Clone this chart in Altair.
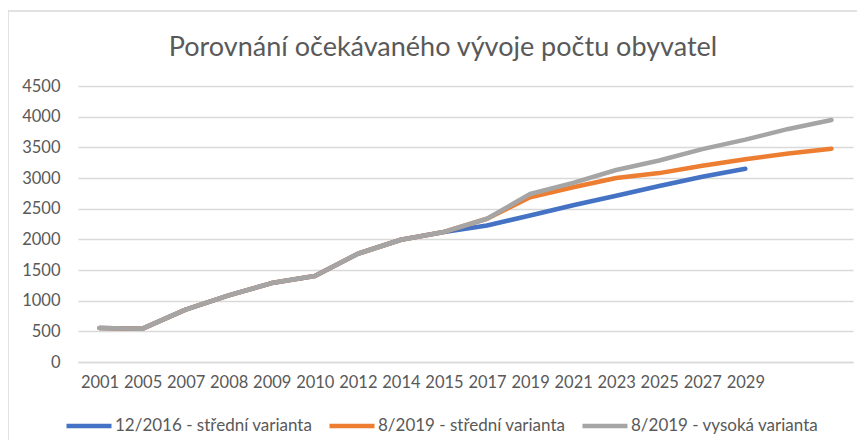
import json
import altair as alt
import pandas as pd

# ---- data ----
years = ["2001", "2005", "2007", "2008", "2009", "2010", "2012", "2014",
         "2015", "2017", "2019", "2021", "2023", "2025", "2027", "2029"]
n_categories = 18  # the last two categories carry no label in the reference

series_names = ["12/2016 - střední varianta",
                "8/2019 - střední varianta",
                "8/2019 - vysoká varianta"]
series_colors = ["#4472C4", "#ED7D31", "#A5A5A5"]

history = [554, 544, 853, 1086, 1287, 1401, 1765, 1993, 2120]          # 2001 .. 2015
blue_proj = [2226, 2389, 2555, 2710, 2870, 3020, 3150]                   # 2017 .. 2029
orange_proj = [2336, 2687, 2850, 3000, 3080, 3200, 3305, 3400, 3478]     # 2017 .. +2
gray_proj = [2336, 2740, 2920, 3130, 3285, 3470, 3625, 3800, 3945]       # 2017 .. +2

title_text = "Porovnání očekávaného vývoje počtu obyvatel"

rows = []
for name, proj in zip(series_names, [blue_proj, orange_proj, gray_proj]):
    vals = history + proj
    for i, v in enumerate(vals):
        rows.append({"s": name, "i": i, "v": v, "k": series_names.index(name)})
df = pd.DataFrame(rows)

FONT = "Lato"
TXT = "#595959"
GRID = "#d9d9d9"
FS = 16.5

W, H = 775, 276

lines = alt.Chart(df).mark_line(strokeWidth=4.5, strokeCap="round", strokeJoin="round").encode(
    x=alt.X("i:Q",
            scale=alt.Scale(domain=[-0.5, n_categories - 0.5], nice=False, zero=False),
            axis=alt.Axis(values=list(range(len(years))),
                          labelExpr=json.dumps(years) + "[datum.value]",
                          title=None, grid=False, ticks=False,
                          domainColor=GRID, domainWidth=1.5,
                          labelPadding=12, labelFontSize=FS, labelColor=TXT, labelFont=FONT)),
    y=alt.Y("v:Q",
            scale=alt.Scale(domain=[0, 4500], nice=False),
            axis=alt.Axis(values=list(range(0, 4501, 500)), title=None, format="d",
                          grid=True, gridColor=GRID, gridWidth=1.5,
                          ticks=False, domain=False, labelPadding=18,
                          labelFontSize=FS, labelColor=TXT, labelFont=FONT)),
    color=alt.Color("s:N",
                    scale=alt.Scale(domain=series_names, range=series_colors),
                    legend=alt.Legend(orient="none", legendX=-14, legendY=315,
                                      direction="horizontal", title=None,
                                      symbolType="stroke", symbolSize=2025,
                                      symbolStrokeWidth=4.5, labelLimit=0,
                                      labelFontSize=17, labelFont=FONT, labelColor=TXT,
                                      labelOffset=1, columnPadding=7)),
    order=alt.Order("k:Q"),
    detail="s:N",
)

one = pd.DataFrame({"t": [title_text]})
title = alt.Chart(one).mark_text(font=FONT, fontSize=27, color=TXT, align="center",
                                 baseline="alphabetic").encode(
    text="t:N", x=alt.value(365), y=alt.value(-30))

border = alt.Chart(one).mark_rect(filled=False, stroke=GRID, strokeWidth=1.5).encode(
    x=alt.value(-70), x2=alt.value(W + 40), y=alt.value(-75), y2=alt.value(H + 120))

chart = alt.layer(border, lines, title).properties(
    width=W, height=H,
    padding={"left": 70, "top": 78, "right": 4, "bottom": 78},
    autosize=alt.AutoSizeParams(type="none"),
).configure_view(stroke=None)

chart.save("out.html", embed_options={"renderer": "svg", "actions": False})
